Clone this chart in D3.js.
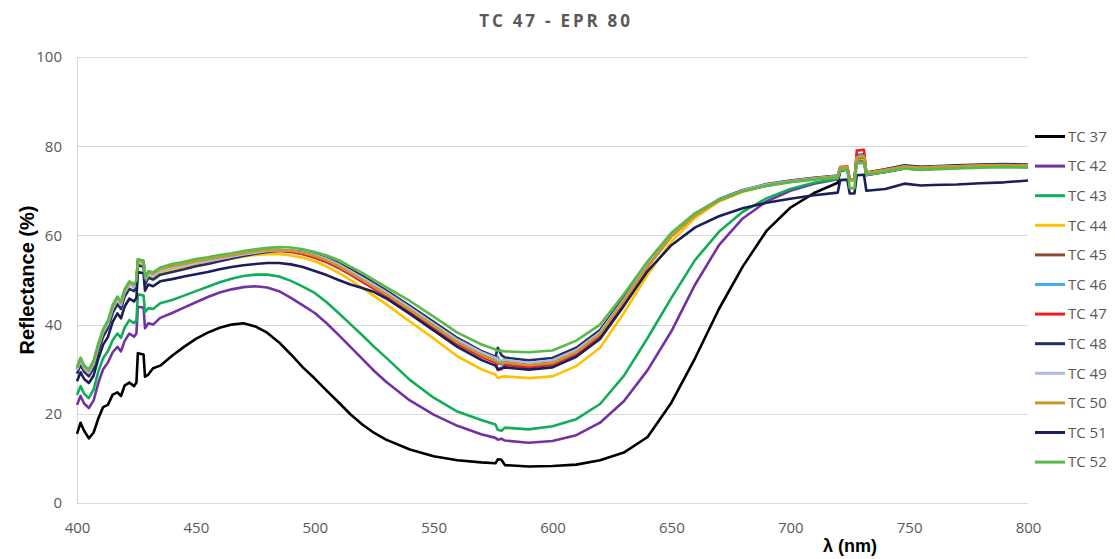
<!DOCTYPE html>
<html>
<head>
<meta charset="utf-8">
<script src="https://cdn.jsdelivr.net/npm/d3@7/dist/d3.min.js"></script>
<style>
  html, body { margin: 0; padding: 0; background: #fff; }
  svg { display: block; }
</style>
</head>
<body>
<svg id="chart" width="1115" height="559"></svg>
<script>
// Reflectance spectra, wavelength in nm and reflectance in %.
const wavelengths = [400, 401.5, 403, 405, 407, 409, 411, 413, 415, 417, 418.5, 420, 422, 424, 425, 425.6, 428, 428.6, 430, 432, 435, 440, 445, 450, 455, 460, 465, 470, 475, 480, 485, 490, 495, 500, 505, 510, 515, 520, 525, 530, 540, 550, 560, 570, 576, 577, 578.5, 580, 590, 600, 610, 620, 630, 640, 650, 660, 670, 680, 690, 700, 710, 720, 721, 724, 725, 727, 728, 731, 732, 740, 748, 755, 760, 770, 780, 790, 800];

const tc37 = [15.5, 18.0, 16.2, 14.5, 15.8, 19.0, 21.5, 22.0, 24.3, 24.8, 24.0, 26.3, 27.0, 26.2, 27.0, 33.6, 33.3, 28.3, 28.8, 30.2, 30.8, 33.0, 35.0, 36.8, 38.2, 39.3, 40.0, 40.3, 39.6, 38.2, 36.0, 33.3, 30.4, 27.9, 25.2, 22.6, 19.9, 17.6, 15.7, 14.2, 12.0, 10.5, 9.6, 9.1, 8.9, 9.8, 9.7, 8.5, 8.2, 8.3, 8.6, 9.6, 11.3, 14.8, 22.5, 32.5, 43.5, 53.0, 61.0, 66.2, 69.5, 71.8, 74.5, 74.8, 72.3, 72.3, 77.0, 77.0, 73.6, 74.2, 75.0, 74.8, 75.0, 75.2, 75.4, 75.6, 75.5];
const tc42 = [22.0, 24.0, 22.3, 21.3, 23.0, 27.0, 30.0, 31.5, 33.8, 35.0, 34.0, 36.3, 38.0, 37.3, 38.0, 44.0, 43.8, 39.2, 40.3, 40.0, 41.5, 42.6, 43.8, 45.0, 46.2, 47.2, 47.9, 48.4, 48.6, 48.3, 47.5, 46.0, 44.3, 42.6, 40.3, 37.7, 35.0, 32.3, 29.6, 27.2, 23.0, 19.8, 17.3, 15.4, 14.6, 14.2, 14.4, 14.0, 13.5, 13.9, 15.2, 18.0, 22.8, 29.8, 38.5, 49.0, 57.8, 63.8, 67.6, 70.0, 71.6, 72.6, 74.5, 74.8, 72.3, 72.3, 76.8, 76.8, 73.5, 74.2, 75.1, 74.8, 75.0, 75.2, 75.4, 75.6, 75.5];
const tc43 = [24.2, 26.2, 24.5, 23.5, 25.5, 29.5, 32.5, 34.0, 36.5, 38.0, 37.0, 39.3, 41.0, 40.3, 41.0, 46.8, 46.5, 42.8, 43.7, 43.5, 44.8, 45.5, 46.5, 47.5, 48.5, 49.5, 50.3, 50.9, 51.2, 51.2, 50.8, 49.8, 48.5, 47.1, 45.0, 42.6, 40.1, 37.6, 35.0, 32.6, 27.6, 23.6, 20.5, 18.6, 17.6, 16.4, 16.2, 16.9, 16.5, 17.2, 18.8, 22.2, 28.5, 37.0, 46.0, 54.5, 60.8, 65.3, 68.3, 70.4, 71.8, 72.7, 74.8, 75.0, 72.3, 72.3, 77.2, 77.2, 73.6, 74.3, 75.1, 74.8, 75.0, 75.2, 75.4, 75.6, 75.4];
const tc44 = [29.8, 31.8, 30.1, 29.1, 31.1, 35.0, 38.2, 40.0, 43.5, 45.5, 44.3, 47.0, 48.9, 48.3, 49.1, 54.0, 53.7, 49.7, 51.1, 50.7, 51.8, 52.4, 52.9, 53.5, 53.9, 54.4, 54.8, 55.3, 55.6, 55.8, 55.8, 55.5, 55.0, 54.2, 53.0, 51.6, 50.0, 48.2, 46.4, 44.6, 40.7, 36.9, 32.9, 30.0, 28.8, 28.0, 28.3, 28.4, 28.0, 28.4, 30.7, 34.8, 42.6, 51.2, 58.6, 64.0, 67.6, 69.8, 71.1, 72.0, 72.6, 73.1, 74.8, 75.0, 72.2, 72.2, 77.0, 77.2, 73.8, 74.4, 75.2, 74.9, 75.0, 75.2, 75.4, 75.5, 75.4];
const tc45 = [30.2, 32.2, 30.6, 29.6, 31.6, 35.5, 38.7, 40.5, 44.0, 46.0, 44.8, 47.5, 49.4, 48.8, 49.6, 54.6, 54.3, 50.2, 51.7, 51.3, 52.4, 53.0, 53.5, 54.1, 54.5, 55.0, 55.4, 55.9, 56.3, 56.6, 56.7, 56.5, 56.1, 55.4, 54.5, 53.2, 51.8, 50.2, 48.6, 47.0, 43.5, 39.9, 36.2, 33.4, 32.1, 31.2, 31.4, 31.6, 31.0, 31.6, 34.0, 38.0, 45.3, 53.2, 59.9, 64.6, 67.9, 70.0, 71.3, 72.2, 72.8, 73.3, 75.0, 75.2, 72.4, 72.4, 78.0, 78.2, 74.0, 74.8, 75.6, 75.3, 75.4, 75.6, 75.8, 75.9, 75.8];
const tc46 = [30.0, 32.1, 30.5, 29.4, 31.5, 35.4, 38.6, 40.4, 43.9, 45.9, 44.7, 47.4, 49.3, 48.7, 49.5, 54.4, 54.1, 50.1, 51.6, 51.2, 52.3, 52.9, 53.4, 54.0, 54.4, 54.9, 55.3, 55.8, 56.2, 56.5, 56.6, 56.4, 55.9, 55.1, 54.1, 52.9, 51.4, 49.8, 48.2, 46.6, 43.1, 39.5, 35.9, 33.0, 31.7, 32.8, 31.0, 31.2, 30.6, 31.2, 33.6, 37.7, 45.1, 53.1, 59.8, 64.6, 67.9, 70.0, 71.3, 72.2, 72.8, 73.3, 75.1, 75.3, 72.4, 72.4, 77.8, 77.9, 73.9, 74.6, 75.4, 75.1, 75.2, 75.4, 75.6, 75.7, 75.6];
const tc47 = [30.0, 32.0, 30.4, 29.4, 31.4, 35.3, 38.5, 40.3, 43.8, 45.8, 44.6, 47.3, 49.2, 48.6, 49.4, 54.3, 54.0, 50.0, 51.5, 51.1, 52.2, 52.8, 53.3, 53.9, 54.3, 54.8, 55.2, 55.7, 56.1, 56.4, 56.5, 56.3, 55.8, 55.0, 54.0, 52.7, 51.2, 49.6, 48.0, 46.4, 42.9, 39.3, 35.6, 32.8, 31.5, 29.8, 30.0, 31.0, 30.4, 31.0, 33.4, 37.5, 45.0, 53.0, 59.8, 64.6, 67.9, 70.0, 71.3, 72.1, 72.7, 73.2, 75.3, 75.5, 72.6, 72.6, 79.0, 79.2, 74.0, 74.5, 75.3, 75.0, 75.1, 75.3, 75.5, 75.6, 75.5];
const tc48 = [29.0, 31.0, 29.4, 28.4, 30.3, 34.2, 37.3, 39.2, 42.6, 44.6, 43.5, 46.2, 48.0, 47.5, 48.3, 53.3, 53.0, 49.0, 50.5, 50.1, 51.2, 51.8, 52.4, 53.1, 53.6, 54.2, 54.8, 55.4, 55.9, 56.3, 56.6, 56.6, 56.3, 55.7, 54.9, 53.8, 52.4, 50.9, 49.3, 47.7, 44.2, 40.6, 37.0, 34.1, 32.8, 34.8, 33.2, 32.6, 32.0, 32.5, 34.8, 38.8, 46.0, 53.6, 60.1, 64.8, 68.1, 70.2, 71.5, 72.3, 72.9, 73.4, 75.0, 75.2, 72.6, 72.6, 77.3, 77.5, 74.1, 74.8, 75.7, 75.4, 75.5, 75.7, 75.9, 76.0, 75.9];
const tc49 = [29.8, 31.9, 30.2, 29.2, 31.2, 35.1, 38.3, 40.1, 43.6, 45.6, 44.4, 47.1, 49.0, 48.4, 49.2, 54.2, 53.9, 49.8, 51.3, 50.9, 52.1, 52.7, 53.2, 53.8, 54.2, 54.7, 55.2, 55.7, 56.1, 56.5, 56.7, 56.6, 56.2, 55.6, 54.7, 53.5, 52.0, 50.5, 48.9, 47.3, 43.8, 40.2, 36.6, 33.8, 32.5, 32.0, 32.0, 32.1, 31.4, 32.0, 34.3, 38.3, 45.6, 53.4, 60.0, 64.7, 68.0, 70.1, 71.4, 72.2, 72.8, 73.3, 75.0, 75.2, 72.3, 72.3, 77.5, 77.7, 73.9, 74.6, 75.4, 75.1, 75.3, 75.5, 75.6, 75.7, 75.6];
const tc50 = [30.3, 32.4, 30.7, 29.7, 31.7, 35.6, 38.8, 40.6, 44.1, 46.1, 44.9, 47.6, 49.5, 48.9, 49.7, 54.5, 54.2, 50.3, 51.8, 51.4, 52.5, 53.1, 53.6, 54.2, 54.6, 55.1, 55.5, 56.0, 56.4, 56.7, 56.8, 56.6, 56.1, 55.4, 54.4, 53.1, 51.6, 50.0, 48.4, 46.8, 43.3, 39.7, 36.0, 33.2, 31.9, 31.5, 31.6, 31.5, 30.9, 31.4, 33.8, 37.9, 45.3, 53.1, 59.8, 64.5, 67.8, 69.9, 71.2, 72.1, 72.7, 73.3, 75.2, 75.4, 72.5, 72.5, 77.5, 77.6, 74.0, 74.7, 75.5, 75.2, 75.3, 75.5, 75.7, 75.8, 75.7];
const tc51 = [27.3, 29.3, 27.8, 26.9, 28.6, 32.4, 35.5, 37.2, 40.6, 42.5, 41.4, 44.0, 45.8, 45.2, 46.0, 51.8, 51.5, 47.6, 49.0, 48.6, 49.7, 50.2, 50.8, 51.3, 51.8, 52.4, 52.9, 53.3, 53.6, 53.8, 53.8, 53.5, 52.9, 52.0, 51.1, 50.0, 49.0, 48.2, 47.3, 45.9, 42.4, 38.7, 35.0, 32.1, 30.8, 30.0, 30.2, 30.4, 29.9, 30.4, 32.8, 36.8, 44.2, 52.0, 57.8, 61.8, 64.3, 66.1, 67.3, 68.2, 69.0, 69.6, 72.4, 72.5, 69.4, 69.4, 73.5, 73.6, 70.0, 70.4, 71.6, 71.2, 71.3, 71.4, 71.7, 71.9, 72.3];
const tc52 = [30.5, 32.6, 30.9, 29.9, 32.0, 35.8, 39.0, 40.9, 44.4, 46.3, 45.1, 47.9, 49.7, 49.1, 49.9, 54.6, 54.3, 50.4, 52.0, 51.7, 52.8, 53.6, 54.1, 54.7, 55.1, 55.6, 56.0, 56.5, 56.9, 57.2, 57.4, 57.3, 56.9, 56.3, 55.5, 54.5, 53.0, 51.6, 50.0, 48.4, 45.3, 41.8, 38.2, 35.6, 34.4, 34.1, 34.1, 34.0, 33.8, 34.2, 36.4, 40.0, 46.8, 54.2, 60.6, 65.0, 68.0, 69.9, 71.1, 71.9, 72.5, 73.0, 74.6, 74.8, 70.6, 70.6, 76.2, 76.2, 73.6, 74.2, 75.0, 74.7, 74.8, 75.0, 75.2, 75.3, 75.2];

const seriesNames = ["TC 37", "TC 42", "TC 43", "TC 44", "TC 45", "TC 46", "TC 47", "TC 48", "TC 49", "TC 50", "TC 51", "TC 52"];
const seriesValues = [tc37, tc42, tc43, tc44, tc45, tc46, tc47, tc48, tc49, tc50, tc51, tc52];
const seriesColors = ["#000000", "#7332A2", "#12AD57", "#FFC000", "#8C4A2F", "#45B0E1", "#EE1C25", "#24305F", "#B1B7E2", "#C49A2C", "#1B1E58", "#5BB84A"];

const xTicks = [400, 450, 500, 550, 600, 650, 700, 750, 800];
const yTicks = [0, 20, 40, 60, 80, 100];

const chartTitle = "TC 47 - EPR 80";
const xTitle = "\u03BB (nm)";
const yTitle = "Reflectance  (%)";

// Layout
const plot = { left: 77, right: 1028, top: 57, bottom: 503 };
const svg = d3.select("#chart");

const x = d3.scaleLinear().domain([400, 800]).range([plot.left, plot.right]);
const y = d3.scaleLinear().domain([0, 100]).range([plot.bottom, plot.top]);

const tickFont = "'Open Sans', 'Noto Sans', sans-serif";
const tickColor = "#595959";

// Horizontal gridlines
svg.append("g")
  .attr("transform", `translate(${plot.left},0)`)
  .call(d3.axisLeft(y).tickValues(yTicks).tickSize(-(plot.right - plot.left)).tickFormat(""))
  .call(g => g.select(".domain").remove())
  .call(g => g.selectAll(".tick line").attr("stroke", "#D9D9D9").attr("stroke-width", 1).attr("shape-rendering", "crispEdges"));

// Vertical axis line on the left
svg.append("line")
  .attr("x1", plot.left).attr("x2", plot.left)
  .attr("y1", y(100)).attr("y2", y(0))
  .attr("stroke", "#D9D9D9").attr("stroke-width", 1).attr("shape-rendering", "crispEdges");

// Y tick labels
svg.append("g")
  .attr("transform", `translate(${plot.left},0)`)
  .call(d3.axisLeft(y).tickValues(yTicks).tickSize(0).tickPadding(15))
  .call(g => g.select(".domain").remove())
  .call(g => g.selectAll("text")
    .attr("fill", tickColor).style("font-family", tickFont).style("font-size", "15px"));

// X tick labels
svg.append("g")
  .attr("transform", `translate(0,${plot.bottom})`)
  .call(d3.axisBottom(x).tickValues(xTicks).tickSize(0).tickPadding(19))
  .call(g => g.select(".domain").remove())
  .call(g => g.selectAll("text")
    .attr("fill", tickColor).style("font-family", tickFont).style("font-size", "15px"));

// Spectra
const line = d3.line()
  .x((d, i) => x(wavelengths[i]))
  .y(d => y(d));

svg.append("g")
  .selectAll("path")
  .data(seriesValues)
  .join("path")
  .attr("d", d => line(d))
  .attr("fill", "none")
  .attr("stroke", (d, i) => seriesColors[i])
  .attr("stroke-width", 2.6)
  .attr("stroke-linejoin", "round");

// Legend
const legend = svg.append("g");
const legendItem = legend.selectAll("g")
  .data(seriesNames)
  .join("g")
  .attr("transform", (d, i) => `translate(1035,${136.5 + i * 29.6})`);
legendItem.append("line")
  .attr("x1", 0).attr("x2", 30)
  .attr("stroke", (d, i) => seriesColors[i])
  .attr("stroke-width", 3);
legendItem.append("text")
  .attr("x", 33).attr("dy", "0.35em")
  .attr("fill", tickColor)
  .style("font-family", tickFont).style("font-size", "15px")
  .text(d => d);

// Titles
svg.append("text")
  .attr("x", 556).attr("y", 27)
  .attr("text-anchor", "middle")
  .attr("fill", "#595959")
  .style("font-family", tickFont).style("font-weight", "bold")
  .style("font-size", "17px").style("letter-spacing", "2.8px")
  .text(chartTitle);

svg.append("text")
  .attr("x", 850).attr("y", 552)
  .attr("text-anchor", "middle")
  .attr("fill", "#000")
  .style("font-family", "'Liberation Sans', Arial, sans-serif").style("font-weight", "bold")
  .style("font-size", "18px")
  .text(xTitle);

svg.append("text")
  .attr("transform", "translate(34,280) rotate(-90)")
  .attr("text-anchor", "middle")
  .attr("fill", "#000")
  .style("font-family", "'Liberation Sans', Arial, sans-serif").style("font-weight", "bold")
  .style("font-size", "20px")
  .text(yTitle);
</script>
</body>
</html>
